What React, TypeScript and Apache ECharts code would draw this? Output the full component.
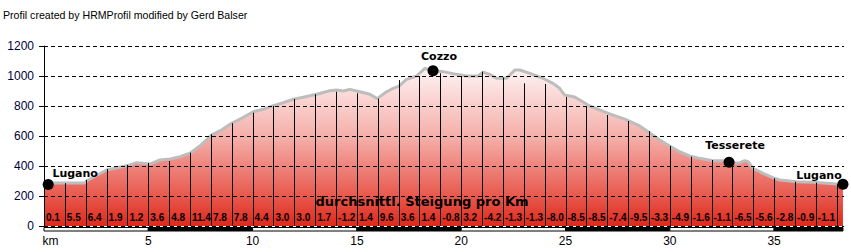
import React, { useEffect, useRef } from 'react';
import * as echarts from 'echarts';

const TITLE = 'Profil created by HRMProfil modified by Gerd Balser';
const GRADIENT_CAPTION = 'durchsnittl. Steigung pro Km';
const TOTAL_KM = 38.35;

// elevation profile: [km, metres]
const profile: [number, number][] = [
  [0, 287], [1.96, 287], [2.05, 302], [3.0, 373], [4.12, 407], [4.44, 422], [5.08, 413],
  [5.56, 440], [6.04, 447], [6.52, 462], [7.0, 485], [7.47, 533], [8.04, 607], [8.51, 640],
  [8.99, 685], [9.47, 718], [10.03, 762], [10.51, 778], [10.99, 802], [11.47, 822],
  [11.95, 845], [12.42, 858], [13.07, 878], [13.7, 902], [14.03, 907], [14.34, 900],
  [14.66, 911], [15.14, 895], [15.62, 878], [15.97, 849], [16.42, 895], [16.74, 918],
  [17.02, 933], [17.38, 978], [17.86, 1000], [18.26, 1051], [18.65, 1035], [19.13, 1029],
  [19.78, 1011], [20.25, 1000], [20.81, 1000], [21.05, 1025], [21.37, 1011], [21.69, 985],
  [22.17, 985], [22.57, 1040], [22.81, 1040], [23.29, 1018], [23.92, 985], [24.4, 951],
  [24.72, 918], [24.96, 873], [25.44, 860], [26.16, 800], [27.12, 747], [27.84, 713],
  [28.56, 667], [29.04, 620], [29.52, 573], [30.0, 533], [30.47, 495], [30.95, 467],
  [31.43, 451], [32.07, 435], [32.55, 435], [33.27, 418], [33.59, 435], [33.75, 429],
  [33.99, 385], [34.47, 351], [34.94, 322], [35.27, 307], [36.07, 295], [36.86, 291],
  [37.5, 285], [37.98, 280], [38.3, 273],
];

// elevation of the km marks 1..38
const kmMarkElev = [
  285, 307, 380, 407, 420, 433, 489, 611, 685, 755,
  800, 847, 878, 895, 885, 849, 973, 1000, 1018, 1000,
  1029, 991, 951, 947, 860, 793, 740, 700, 633, 533,
  462, 440, 429, 391, 318, 295, 289, 280,
];

// average gradient (%) per km segment, starting at km 0
const gradients = [
  0.1, 5.5, 6.4, 1.9, 1.2, 3.6, 4.8, 11.4, 7.8, 7.8,
  4.4, 3.0, 3.0, 1.7, -1.2, 1.4, 9.6, 3.6, 1.4, -0.8,
  3.2, -4.2, -1.3, -1.3, -8.0, -8.5, -8.5, -7.4, -9.5, -3.3,
  -4.9, -1.6, -1.1, -6.5, -5.6, -2.8, -0.9, -1.1,
];

const placeNames = ['Lugano', 'Cozzo', 'Tesserete', 'Lugano'];
const placeKm = [0.2, 18.65, 32.84, 38.3];
const placeElev = [277, 1035, 425, 278];

const kmBandStarts = [0, 5, 10, 15, 20, 25, 30, 35];

const Y_MIN = 0;
const Y_MAX = 1200;
const Y_STEP = 200;
const X_STEP = 5;

const labelOffsets: [number, number][] = [[27, -11], [6, -14], [6, -17], [-24, -9]];

export default function App() {
  const ref = useRef<HTMLDivElement>(null);

  useEffect(() => {
    if (!ref.current) return;
    const chart = echarts.init(ref.current, null, { renderer: 'svg' });

    const option: any = {
      animation: false,
      backgroundColor: '#ffffff',
      title: {
        text: TITLE,
        left: 3,
        top: 9,
        padding: 0,
        textStyle: {
          fontSize: 10.6,
          fontWeight: 'normal',
          fontFamily: '"Liberation Sans", Arial, sans-serif',
          color: '#000',
        },
      },
      grid: { left: 44, right: 7, top: 46, bottom: 26 },
      xAxis: {
        type: 'value',
        min: 0,
        max: TOTAL_KM,
        interval: X_STEP,
        axisLine: { show: false },
        axisTick: { show: false },
        splitLine: { show: false },
        axisLabel: {
          margin: 9,
          fontSize: 12,
          fontFamily: '"Liberation Sans", Arial, sans-serif',
          color: '#000',
          formatter: (v: number) =>
            v === 0 ? '{km|km}' : Math.abs(v % X_STEP) < 1e-9 ? String(v) : '',
          rich: {
            km: {
              padding: [0, 0, 0, 13],
              fontSize: 12,
              fontFamily: '"Liberation Sans", Arial, sans-serif',
              color: '#000',
            },
          },
        },
      },
      yAxis: {
        type: 'value',
        min: Y_MIN,
        max: Y_MAX,
        interval: Y_STEP,
        z: 3,
        axisLine: { show: true, lineStyle: { color: '#000', width: 1 } },
        axisTick: { show: true, length: 5, lineStyle: { color: '#000' } },
        axisLabel: {
          margin: 10,
          fontSize: 12,
          fontFamily: '"Liberation Sans", Arial, sans-serif',
          color: '#00003a',
          formatter: (v: number) => String(v),
        },
        splitLine: {
          show: true,
          lineStyle: { type: [4, 3], color: '#000', width: 1 },
        },
      },
      graphic: [
        {
          type: 'text',
          x: 422,
          y: 201,
          z: 20,
          style: {
            text: GRADIENT_CAPTION,
            font: 'bold 13px "DejaVu Sans", Verdana, sans-serif',
            fill: '#000',
            align: 'center',
            verticalAlign: 'middle',
          },
        },
      ],
      series: [
        {
          type: 'line',
          data: profile,
          showSymbol: false,
          symbol: 'none',
          z: 1,
          lineStyle: { color: '#bdbdbd', width: 3 },
          areaStyle: {
            opacity: 1,
            color: new echarts.graphic.LinearGradient(0, 0, 0, 1, [
              { offset: 0, color: '#fdf3f3' },
              { offset: 0.45, color: '#f4aca6' },
              { offset: 0.8, color: '#e85b50' },
              { offset: 1, color: '#de291c' },
            ]),
          },
        },
        {
          type: 'custom',
          z: 2,
          data: kmMarkElev.map((e, i) => [i + 1, e]),
          renderItem: (params: any, api: any) => {
            const p0 = api.coord([api.value(0), 0]);
            const p1 = api.coord([api.value(0), api.value(1)]);
            const x = Math.round(p0[0]) + 0.5;
            return {
              type: 'line',
              shape: { x1: x, y1: p0[1], x2: x, y2: p1[1] },
              style: { stroke: '#000', lineWidth: 1 },
            };
          },
        },
        {
          type: 'custom',
          z: 4,
          data: gradients.map((g, i) => [i, g]),
          renderItem: (params: any, api: any) => {
            const p = api.coord([api.value(0), 0]);
            return {
              type: 'text',
              x: p[0] + 2,
              y: p[1] - 9,
              style: {
                text: Number(api.value(1)).toFixed(1),
                fill: '#000',
                font: 'bold 10px "Liberation Sans", Arial, sans-serif',
                align: 'left',
                verticalAlign: 'middle',
              },
            };
          },
        },
        {
          type: 'custom',
          z: 4,
          data: kmBandStarts.map((s) => [s, Math.min(s + X_STEP, profile[profile.length - 1][0])]),
          renderItem: (params: any, api: any) => {
            const a = api.coord([api.value(0), 0]);
            const b = api.coord([api.value(1), 0]);
            return {
              type: 'rect',
              shape: { x: a[0], y: a[1] + 1.5, width: b[0] - a[0], height: 3.5 },
              style: {
                fill: params.dataIndex % 2 === 0 ? '#fff' : '#000',
                stroke: '#000',
                lineWidth: 1,
              },
            };
          },
        },
        {
          type: 'scatter',
          z: 6,
          symbol: 'circle',
          symbolSize: 11,
          itemStyle: { color: '#000', opacity: 1 },
          data: placeKm.map((k, i) => ({
            value: [k, placeElev[i]],
            name: placeNames[i],
            label: { offset: labelOffsets[i] },
          })),
          label: {
            show: true,
            position: 'inside',
            formatter: (p: any) => p.name,
            color: '#000',
            fontSize: 11,
            fontWeight: 'bold',
            fontFamily: '"DejaVu Sans", Verdana, sans-serif',
          },
        },
      ],
    };

    chart.setOption(option);
    return () => chart.dispose();
  }, []);

  return (
    <div
      ref={ref}
      style={{ position: 'fixed', left: 0, top: 0, width: 851, height: 252 }}
    />
  );
}
